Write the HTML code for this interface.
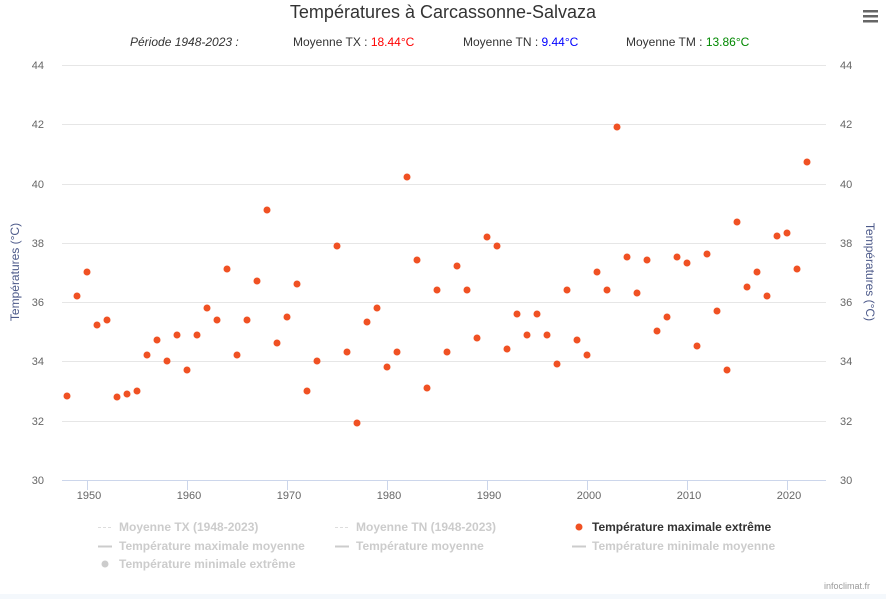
<!DOCTYPE html>
<html><head><meta charset="utf-8"><style>
body{margin:0;background:#fff;width:886px;height:599px;overflow:hidden;font-family:"Liberation Sans","DejaVu Sans",sans-serif}
</style></head><body>
<svg width="886" height="599" xmlns="http://www.w3.org/2000/svg" font-family="Liberation Sans, DejaVu Sans, sans-serif">
<rect width="886" height="599" fill="#fff"/>
<rect x="0" y="594" width="886" height="5" fill="#f4f8fc"/>
<text x="443" y="18" text-anchor="middle" font-size="18" fill="#333">Températures à Carcassonne-Salvaza</text>
<g fill="#666" font-size="12"><rect x="863" y="10" width="15" height="2.5" fill="#666"/><rect x="863" y="15" width="15" height="2.5" fill="#666"/><rect x="863" y="20" width="15" height="2.5" fill="#666"/></g>
<g font-size="12" fill="#333">
<text x="130" y="46" font-style="italic">Période 1948-2023 :</text>
<text x="293" y="46">Moyenne TX : <tspan fill="#f00">18.44°C</tspan></text>
<text x="463" y="46">Moyenne TN : <tspan fill="#00f">9.44°C</tspan></text>
<text x="626" y="46">Moyenne TM : <tspan fill="#080">13.86°C</tspan></text>
</g>
<g stroke="#e6e6e6" stroke-width="1">
<line x1="62" x2="826" y1="65.5" y2="65.5"/><line x1="62" x2="826" y1="124.5" y2="124.5"/><line x1="62" x2="826" y1="184.5" y2="184.5"/><line x1="62" x2="826" y1="243.5" y2="243.5"/><line x1="62" x2="826" y1="302.5" y2="302.5"/><line x1="62" x2="826" y1="361.5" y2="361.5"/><line x1="62" x2="826" y1="421.5" y2="421.5"/>
</g>
<line x1="62" x2="826" y1="480.5" y2="480.5" stroke="#ccd6eb"/>
<g stroke="#ccd6eb"><line x1="87.5" x2="87.5" y1="480" y2="490"/><line x1="187.5" x2="187.5" y1="480" y2="490"/><line x1="287.5" x2="287.5" y1="480" y2="490"/><line x1="387.5" x2="387.5" y1="480" y2="490"/><line x1="487.5" x2="487.5" y1="480" y2="490"/><line x1="587.5" x2="587.5" y1="480" y2="490"/><line x1="687.5" x2="687.5" y1="480" y2="490"/><line x1="787.5" x2="787.5" y1="480" y2="490"/></g>
<g font-size="11" fill="#666" text-anchor="middle">
<text x="89" y="499">1950</text><text x="189" y="499">1960</text><text x="289" y="499">1970</text><text x="389" y="499">1980</text><text x="489" y="499">1990</text><text x="589" y="499">2000</text><text x="689" y="499">2010</text><text x="789" y="499">2020</text>
</g>
<g font-size="11" fill="#666" text-anchor="end">
<text x="44" y="69">44</text><text x="44" y="128">42</text><text x="44" y="188">40</text><text x="44" y="247">38</text><text x="44" y="306">36</text><text x="44" y="365">34</text><text x="44" y="425">32</text><text x="44" y="484">30</text>
</g>
<g font-size="11" fill="#666" text-anchor="start">
<text x="840" y="69">44</text><text x="840" y="128">42</text><text x="840" y="188">40</text><text x="840" y="247">38</text><text x="840" y="306">36</text><text x="840" y="365">34</text><text x="840" y="425">32</text><text x="840" y="484">30</text>
</g>
<text transform="translate(19,272) rotate(-90)" text-anchor="middle" font-size="12" fill="#4d5a8a">Températures (°C)</text>
<text transform="translate(866,272) rotate(90)" text-anchor="middle" font-size="12" fill="#4d5a8a">Températures (°C)</text>
<g fill="#f05123">
<circle cx="67" cy="396" r="3.5"/><circle cx="77" cy="296" r="3.5"/><circle cx="87" cy="272" r="3.5"/><circle cx="97" cy="325" r="3.5"/><circle cx="107" cy="320" r="3.5"/><circle cx="117" cy="397" r="3.5"/><circle cx="127" cy="394" r="3.5"/><circle cx="137" cy="391" r="3.5"/><circle cx="147" cy="355" r="3.5"/><circle cx="157" cy="340" r="3.5"/><circle cx="167" cy="361" r="3.5"/><circle cx="177" cy="335" r="3.5"/><circle cx="187" cy="370" r="3.5"/><circle cx="197" cy="335" r="3.5"/><circle cx="207" cy="308" r="3.5"/><circle cx="217" cy="320" r="3.5"/><circle cx="227" cy="269" r="3.5"/><circle cx="237" cy="355" r="3.5"/><circle cx="247" cy="320" r="3.5"/><circle cx="257" cy="281" r="3.5"/><circle cx="267" cy="210" r="3.5"/><circle cx="277" cy="343" r="3.5"/><circle cx="287" cy="317" r="3.5"/><circle cx="297" cy="284" r="3.5"/><circle cx="307" cy="391" r="3.5"/><circle cx="317" cy="361" r="3.5"/><circle cx="337" cy="246" r="3.5"/><circle cx="347" cy="352" r="3.5"/><circle cx="357" cy="423" r="3.5"/><circle cx="367" cy="322" r="3.5"/><circle cx="377" cy="308" r="3.5"/><circle cx="387" cy="367" r="3.5"/><circle cx="397" cy="352" r="3.5"/><circle cx="407" cy="177" r="3.5"/><circle cx="417" cy="260" r="3.5"/><circle cx="427" cy="388" r="3.5"/><circle cx="437" cy="290" r="3.5"/><circle cx="447" cy="352" r="3.5"/><circle cx="457" cy="266" r="3.5"/><circle cx="467" cy="290" r="3.5"/><circle cx="477" cy="338" r="3.5"/><circle cx="487" cy="237" r="3.5"/><circle cx="497" cy="246" r="3.5"/><circle cx="507" cy="349" r="3.5"/><circle cx="517" cy="314" r="3.5"/><circle cx="527" cy="335" r="3.5"/><circle cx="537" cy="314" r="3.5"/><circle cx="547" cy="335" r="3.5"/><circle cx="557" cy="364" r="3.5"/><circle cx="567" cy="290" r="3.5"/><circle cx="577" cy="340" r="3.5"/><circle cx="587" cy="355" r="3.5"/><circle cx="597" cy="272" r="3.5"/><circle cx="607" cy="290" r="3.5"/><circle cx="617" cy="127" r="3.5"/><circle cx="627" cy="257" r="3.5"/><circle cx="637" cy="293" r="3.5"/><circle cx="647" cy="260" r="3.5"/><circle cx="657" cy="331" r="3.5"/><circle cx="667" cy="317" r="3.5"/><circle cx="677" cy="257" r="3.5"/><circle cx="687" cy="263" r="3.5"/><circle cx="697" cy="346" r="3.5"/><circle cx="707" cy="254" r="3.5"/><circle cx="717" cy="311" r="3.5"/><circle cx="727" cy="370" r="3.5"/><circle cx="737" cy="222" r="3.5"/><circle cx="747" cy="287" r="3.5"/><circle cx="757" cy="272" r="3.5"/><circle cx="767" cy="296" r="3.5"/><circle cx="777" cy="236" r="3.5"/><circle cx="787" cy="233" r="3.5"/><circle cx="797" cy="269" r="3.5"/><circle cx="807" cy="162" r="3.5"/>
</g>
<g font-size="12" font-weight="bold" fill="#ccc">
<line x1="98" x2="112" y1="527.5" y2="527.5" stroke="#ddd" stroke-dasharray="3,2"/><text x="119" y="531">Moyenne TX (1948-2023)</text>
<line x1="335" x2="349" y1="527.5" y2="527.5" stroke="#ddd" stroke-dasharray="3,2"/><text x="356" y="531">Moyenne TN (1948-2023)</text>
<circle cx="579" cy="527" r="3.5" fill="#f05123"/><text x="592" y="531" fill="#333">Température maximale extrême</text>
<line x1="98" x2="112" y1="546.5" y2="546.5" stroke="#ccc" stroke-width="2"/><text x="119" y="550">Température maximale moyenne</text>
<line x1="335" x2="349" y1="546.5" y2="546.5" stroke="#ccc" stroke-width="2"/><text x="356" y="550">Température moyenne</text>
<line x1="572" x2="586" y1="546.5" y2="546.5" stroke="#ccc" stroke-width="2"/><text x="592" y="550">Température minimale moyenne</text>
<circle cx="105" cy="564" r="3.5" fill="#ccc"/><text x="119" y="568">Température minimale extrême</text>
</g>
<text x="870" y="589" text-anchor="end" font-size="9" fill="#999">infoclimat.fr</text>
</svg>
</body></html>
